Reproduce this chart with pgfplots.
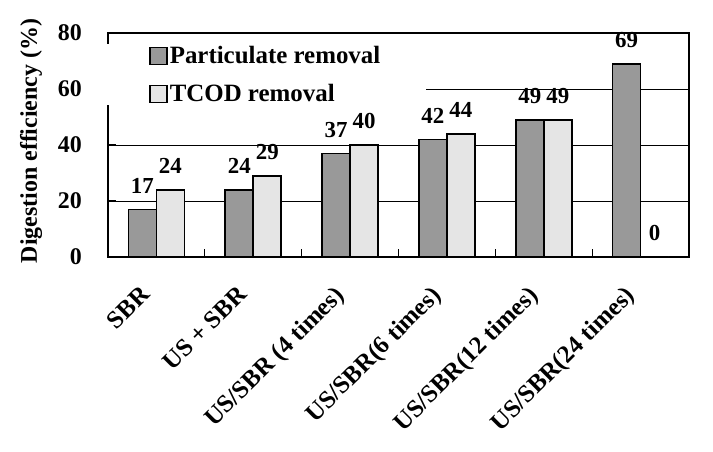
\documentclass[border=0pt]{standalone}
\usepackage{fontspec}
\setmainfont{Liberation Serif}
\usepackage{pgfplots}
\pgfplotsset{compat=1.18}
\begin{document}
\begin{tikzpicture}
\begin{axis}[
  name=ax,
  scale only axis, width=581bp, height=224bp,
  xmin=-0.5, xmax=5.5, ymin=0, ymax=80,
  ybar=0pt, bar width=28bp,
  axis line style={line width=2.2bp},
  ytick={0,20,40,60,80},
  ymajorgrids, grid style={line width=0.8bp, black},
  xtick=data,
  xticklabels={SBR, US + SBR, US/SBR (4 times), US/SBR(6 times), US/SBR(12 times), US/SBR(24 times)},
  minor xtick={0.5,1.5,2.5,3.5,4.5},
  major x tick style={draw=none},
  tick align=inside, xtick pos=lower, ytick pos=left,
  major tick length=8bp, minor tick length=8bp,
  tick style={black, line width=1bp},
  /pgf/number format/assume math mode=true,
  yticklabel style={font=\fontsize{24}{28}\selectfont\bfseries, inner sep=0pt, xshift=-26bp},
  xticklabel style={font=\fontsize{25}{29}\selectfont\bfseries, inner sep=0pt,
    xshift=-17bp, yshift=-27bp, rotate=45, anchor=north east},
  ylabel={Digestion efficiency (\%)},
  ylabel style={font=\fontsize{24}{28}\selectfont\bfseries, at={(axis description cs:-0.1325,0.518)}, anchor=center},
  nodes near coords,
  nodes near coords style={font=\fontsize{23}{27}\selectfont\bfseries, inner sep=0pt, yshift=15bp},
  legend style={font=\fontsize{25}{30}\selectfont\bfseries, draw=none, fill=white,
    at={(axis description cs:0,1)}, anchor=north west, xshift=-3bp, yshift=-11bp,
    inner xsep=44bp, inner ysep=0bp, row sep=15bp},
  legend cell align=left,
  legend image code/.code={\draw[#1, line width=1.6bp] (0bp,-9bp) rectangle (17bp,8bp);},
]
\addplot[fill=black!40, draw=black, line width=1.6bp] coordinates {
  (0,17) (1,24) (2,37) (3,42) (4,49) (5,69)
};
\addlegendentry{Particulate removal}
\addplot[fill=black!10, draw=black, line width=1.6bp] coordinates {
  (0,24) (1,29) (2,40) (3,44) (4,49) (5,0)
};
\addlegendentry{TCOD removal}
\end{axis}
\pgfresetboundingbox
\path ([shift={(-108bp,-195bp)}]ax.south west) rectangle ([shift={(24bp,33bp)}]ax.north east);
\end{tikzpicture}
\end{document}
